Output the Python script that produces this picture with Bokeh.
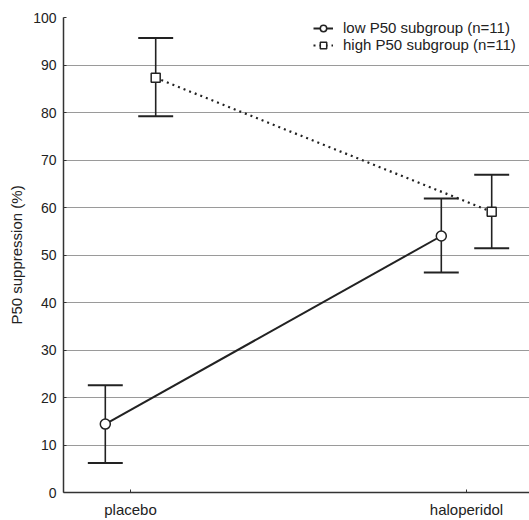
from bokeh.plotting import figure
from bokeh.models import (ColumnDataSource, FixedTicker, Legend, LegendItem, Range1d)
from bokeh.embed import file_html
from bokeh.resources import INLINE

# ---- data ----
categories = ["placebo", "haloperidol"]
low_mean = [14.4, 54.0]
low_lower = [6.2, 46.3]
low_upper = [22.6, 61.9]
high_mean = [87.3, 59.1]
high_lower = [79.2, 51.4]
high_upper = [95.7, 66.9]
y_ticks = [0, 10, 20, 30, 40, 50, 60, 70, 80, 90, 100]

OFFSET = 0.075
FONT = "Liberation Sans"
DARK = "#222222"

p = figure(width=529, height=520, output_backend="svg", toolbar_location=None,
           x_range=Range1d(-0.1994, 1.1875), y_range=Range1d(0, 100),
           min_border_left=63, min_border_right=0, min_border_top=17,
           min_border_bottom=26)
p.outline_line_color = None
p.background_fill_color = "white"
p.border_fill_color = "white"

xs = list(range(len(categories)))
low_x = [x - OFFSET for x in xs]
high_x = [x + OFFSET for x in xs]

low_src = ColumnDataSource(dict(x=low_x, m=low_mean, lo=low_lower, hi=low_upper))
high_src = ColumnDataSource(dict(x=high_x, m=high_mean, lo=high_lower, hi=high_upper))

cap = 0.052
def errorbars(src):
    d = src.data
    x0 = [x - cap for x in d["x"]]
    x1 = [x + cap for x in d["x"]]
    s = ColumnDataSource(dict(x=d["x"], lo=d["lo"], hi=d["hi"], x0=x0, x1=x1))
    stem = p.segment(x0="x", y0="lo", x1="x", y1="hi", source=s, line_color=DARK, line_width=1.6)
    c1 = p.segment(x0="x0", y0="hi", x1="x1", y1="hi", source=s, line_color=DARK, line_width=2)
    c2 = p.segment(x0="x0", y0="lo", x1="x1", y1="lo", source=s, line_color=DARK, line_width=2)
    return stem, c1, c2

errorbars(low_src)
errorbars(high_src)

low_line = p.line("x", "m", source=low_src, line_color=DARK, line_width=2)
high_line = p.line("x", "m", source=high_src, line_color=DARK, line_width=2.2,
                   line_dash="2 4")
low_pts = p.scatter("x", "m", source=low_src, marker="circle", size=10,
                    fill_color="white", line_color=DARK, line_width=1.5)
high_pts = p.scatter("x", "m", source=high_src, marker="square", size=9,
                     fill_color="white", line_color=DARK, line_width=1.5)

# axes
p.xaxis.ticker = FixedTicker(ticks=xs)
p.xaxis.major_label_overrides = {i: c for i, c in enumerate(categories)}
p.yaxis.ticker = FixedTicker(ticks=y_ticks)
for ax in (p.xaxis[0], p.yaxis[0]):
    ax.axis_line_color = "#333333"
    ax.axis_line_width = 1.5
    ax.major_tick_out = 0
    ax.major_tick_in = 3
    ax.major_tick_line_color = "#333333"
    ax.minor_tick_line_color = None
    ax.major_label_text_font = FONT
    ax.major_label_text_color = "#222222"
p.xaxis.major_label_text_font_size = "15px"
p.xaxis.major_label_standoff = 8
p.yaxis.major_label_text_font_size = "14px"
p.yaxis.major_label_standoff = 7
p.yaxis.axis_label = "P50 suppression (%)"
p.yaxis.axis_label_text_font = FONT
p.yaxis.axis_label_text_font_style = "normal"
p.yaxis.axis_label_text_font_size = "15px"
p.yaxis.axis_label_text_color = "#222222"
p.yaxis.axis_label_standoff = 5

p.xgrid.grid_line_color = None
p.ygrid.ticker = FixedTicker(ticks=[10, 20, 30, 40, 50, 60, 70, 80, 90])
p.ygrid.grid_line_color = "#9a9a9a"
p.ygrid.grid_line_width = 1.2

legend = Legend(items=[
    LegendItem(label="low P50 subgroup (n=11)", renderers=[low_line, low_pts]),
    LegendItem(label="high P50 subgroup (n=11)", renderers=[high_line, high_pts]),
], location=(250, 439))
legend.border_line_color = None
legend.background_fill_alpha = 0
legend.padding = 0
legend.margin = 0
legend.spacing = 0
legend.glyph_width = 20
legend.glyph_height = 16
legend.label_height = 16
legend.label_standoff = 10
legend.label_text_font = FONT
legend.label_text_font_size = "15px"
legend.label_text_color = "#222222"
p.add_layout(legend)

open("out.html", "w").write(file_html(p, INLINE))
